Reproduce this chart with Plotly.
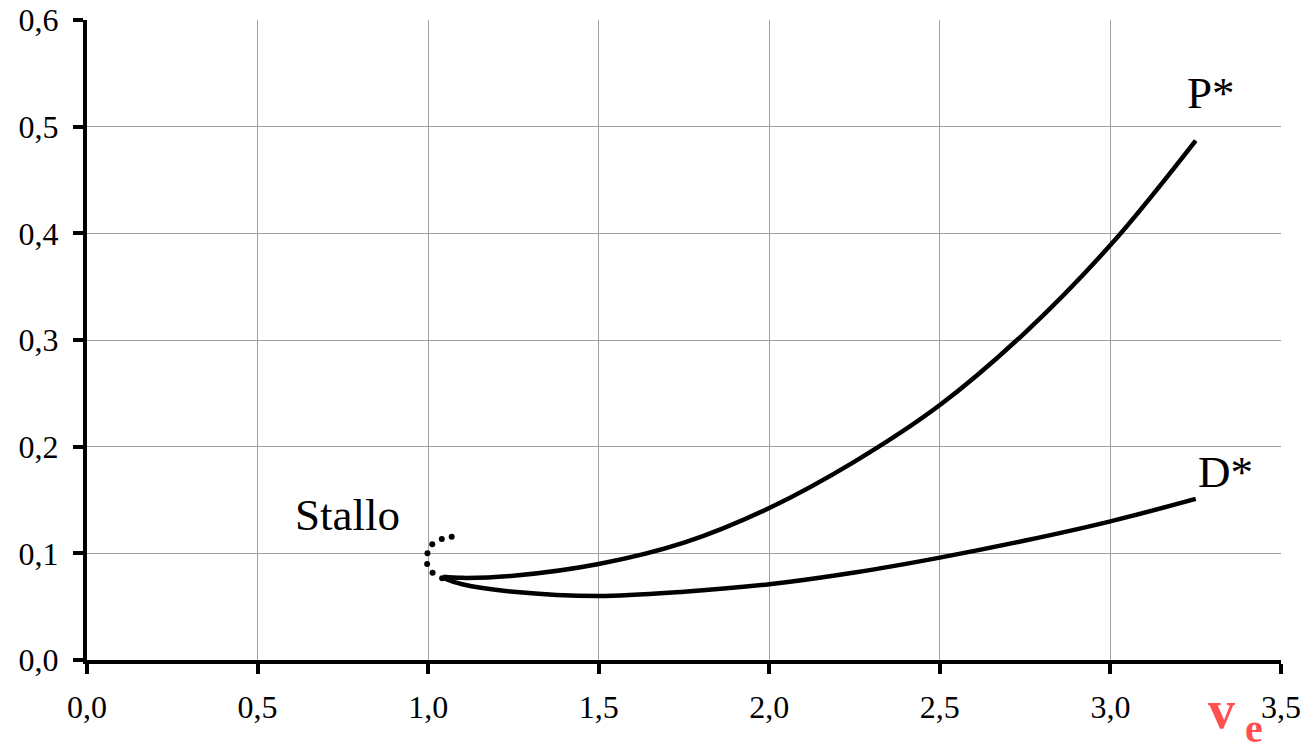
import plotly.graph_objects as go

# Data
ve_p = [1.044, 1.10, 1.25, 1.50, 1.75, 2.00, 2.25, 2.50, 2.75, 3.00, 3.25]
p_star = [0.078, 0.077, 0.079, 0.090, 0.110, 0.1425, 0.186, 0.239, 0.307, 0.389, 0.487]

ve_d = [1.044, 1.10, 1.25, 1.50, 1.75, 2.00, 2.25, 2.50, 2.75, 3.00, 3.25]
d_star = [0.077, 0.071, 0.064, 0.060, 0.064, 0.071, 0.082, 0.096, 0.112, 0.130, 0.151]

ve_stall = [1.069, 1.040, 1.012, 0.998, 0.997, 1.013, 1.041]
stall = [0.1156, 0.1134, 0.1084, 0.1000, 0.0900, 0.0819, 0.0766]

x_ticks = [0.0, 0.5, 1.0, 1.5, 2.0, 2.5, 3.0, 3.5]
y_ticks = [0.0, 0.1, 0.2, 0.3, 0.4, 0.5, 0.6]

FONT = "Liberation Serif"

fig = go.Figure()
fig.add_trace(go.Scatter(x=ve_p, y=p_star, mode="lines", line=dict(color="black", width=4.5, shape="spline"), hoverinfo="skip"))
fig.add_trace(go.Scatter(x=ve_d, y=d_star, mode="lines", line=dict(color="black", width=4.5, shape="spline"), hoverinfo="skip"))
fig.add_trace(go.Scatter(x=ve_stall, y=stall, mode="markers", marker=dict(color="black", size=6), hoverinfo="skip"))

fig.add_annotation(x=0.765, y=0.136, xref="x", yref="y", text="Stallo", showarrow=False,
                   font=dict(family=FONT, size=45, color="black"))
fig.add_annotation(x=3.295, y=0.532, xref="x", yref="y", text="P*", showarrow=False,
                   font=dict(family=FONT, size=45, color="black"))
fig.add_annotation(x=3.336, y=0.176, xref="x", yref="y", text="D*", showarrow=False,
                   font=dict(family=FONT, size=45, color="black"))
fig.add_annotation(x=0.963, y=-0.128, xref="paper", yref="paper", text="<b>v</b>", showarrow=False,
                   font=dict(family=FONT, size=54, color="#ff4f4f"))
fig.add_annotation(x=0.987, y=-0.146, xref="paper", yref="paper", text="<b>e</b>", showarrow=False,
                   font=dict(family=FONT, size=40, color="#ff4f4f"))

fig.update_layout(
    width=1311, height=750,
    margin=dict(l=87, r=30, t=20, b=90, autoexpand=False),
    plot_bgcolor="white", paper_bgcolor="white",
    showlegend=False,
    separators=", ",
    font=dict(family=FONT, size=32, color="black"),
)
fig.update_xaxes(range=[0, 3.5], tickvals=x_ticks, tickformat=".1f",
                 tickfont=dict(family=FONT, size=32, color="black"),
                 showgrid=True, gridcolor="#a0a0a0", gridwidth=1,
                 showline=True, linecolor="black", linewidth=4,
                 ticks="outside", ticklen=10, tickwidth=4, tickcolor="black",
                 zeroline=False, ticklabelstandoff=6, automargin=False,
                 ticklabeloverflow="allow")
fig.update_yaxes(range=[0, 0.6], tickvals=y_ticks, tickformat=".1f",
                 tickfont=dict(family=FONT, size=32, color="black"),
                 showgrid=True, gridcolor="#a0a0a0", gridwidth=1,
                 showline=True, linecolor="black", linewidth=4,
                 ticks="outside", ticklen=10, tickwidth=4, tickcolor="black",
                 zeroline=False, ticklabelstandoff=8, automargin=False,
                 ticklabeloverflow="allow")

fig.write_html("out.html", config={"displayModeBar": False},
               post_script="document.body.style.margin='0';")
